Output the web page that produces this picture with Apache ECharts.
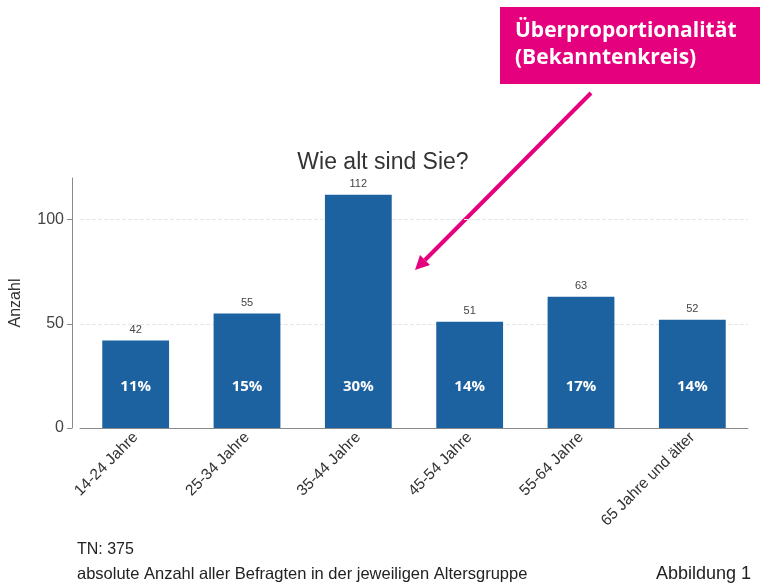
<!DOCTYPE html>
<html>
<head>
<meta charset="utf-8">
<script src="https://cdn.jsdelivr.net/npm/echarts@6/dist/echarts.min.js"></script>
<style>
  html, body { margin: 0; padding: 0; background: #fff; }
  #chart { width: 770px; height: 585px; }
</style>
</head>
<body>
<div id="chart"></div>
<script>
// Altersgruppen
var categories = ['14-24 Jahre', '25-34 Jahre', '35-44 Jahre', '45-54 Jahre', '55-64 Jahre', '65 Jahre und älter'];
var counts = [42, 55, 112, 51, 63, 52];
var percents = ['11%', '15%', '30%', '14%', '17%', '14%'];
var yTicks = [0, 50, 100];

var barColor = '#1c62a0';
var pink = '#e5007d';

var myChart = echarts.init(document.getElementById('chart'));
var option = {
  backgroundColor: '#fff',
  animation: false,
  title: {
    text: 'Wie alt sind Sie?',
    left: 378,
    textAlign: 'center',
    top: 146,
    textStyle: { fontFamily: 'Liberation Sans', fontSize: 23, fontWeight: 'normal', color: '#333' }
  },
  grid: { left: 80, right: 22, top: 178, bottom: 157 },
  xAxis: {
    type: 'category',
    data: categories,
    axisLine: { lineStyle: { color: '#8a8a8a', width: 1 } },
    axisTick: { show: false },
    axisLabel: {
      rotate: 45,
      margin: 7,
      color: '#333',
      fontFamily: 'Liberation Sans',
      fontSize: 15.5
    }
  },
  yAxis: {
    type: 'value',
    min: 0,
    max: 120,
    interval: 50,
    offset: 8,
    name: 'Anzahl',
    nameLocation: 'middle',
    nameGap: 48,
    nameTextStyle: { fontFamily: 'Liberation Sans', fontSize: 16, color: '#333' },
    axisLine: { show: true, lineStyle: { color: '#8a8a8a', width: 1 } },
    axisTick: { show: true, length: 5, lineStyle: { color: '#8a8a8a' } },
    axisLabel: {
      showMaxLabel: false,
      margin: 8,
      color: '#444',
      fontFamily: 'Liberation Sans',
      fontSize: 16,
      formatter: function (v) { return yTicks.indexOf(v) >= 0 ? String(v) : ''; }
    },
    splitLine: { show: false }
  },
  series: [
    {
      type: 'bar',
      data: counts,
      barCategoryGap: '40%',
      itemStyle: { color: barColor },
      label: {
        show: true,
        position: 'top',
        distance: 5,
        color: '#444',
        fontFamily: 'Liberation Sans',
        fontSize: 11
      },
      markLine: {
        silent: true,
        symbol: 'none',
        label: { show: false },
        lineStyle: { color: '#e6e6e6', type: 'dashed', width: 1 },
        data: yTicks.slice(1).map(function (v) { return { yAxis: v }; }),
        z: 0
      }
    },
    {
      type: 'bar',
      data: counts,
      barGap: '-100%',
      barCategoryGap: '40%',
      silent: true,
      itemStyle: { color: 'rgba(0,0,0,0)' },
      label: {
        show: true,
        position: 'insideBottom',
        distance: 34,
        color: '#fff',
        fontFamily: 'Open Sans',
        fontWeight: 'bold',
        fontSize: 15,
        formatter: function (p) { return percents[p.dataIndex]; }
      }
    }
  ],
  graphic: [
    {
      type: 'rect',
      shape: { x: 500, y: 7, width: 260, height: 77 },
      style: { fill: pink }
    },
    {
      type: 'text',
      left: 515,
      top: 18,
      style: {
        text: 'Überproportionalität\n(Bekanntenkreis)',
        fill: '#fff',
        font: 'bold 21px "Open Sans"',
        lineHeight: 27
      }
    },
    {
      type: 'line',
      shape: { x1: 591, y1: 93, x2: 425, y2: 260 },
      style: { stroke: pink, lineWidth: 4 }
    },
    {
      type: 'polygon',
      shape: { points: [[415, 270], [430, 265], [420, 255]] },
      style: { fill: pink }
    },
    {
      type: 'text',
      left: 77,
      top: 542,
      style: { text: 'TN: 375', fill: '#222', font: '16px "Liberation Sans"' }
    },
    {
      type: 'text',
      left: 77,
      top: 566,
      style: { text: 'absolute Anzahl aller Befragten in der jeweiligen Altersgruppe', fill: '#222', font: '16.5px "Liberation Sans"' }
    },
    {
      type: 'text',
      left: 656,
      top: 565,
      style: { text: 'Abbildung 1', fill: '#222', font: '18px "Liberation Sans"' }
    }
  ]
};
myChart.setOption(option);
</script>
</body>
</html>
